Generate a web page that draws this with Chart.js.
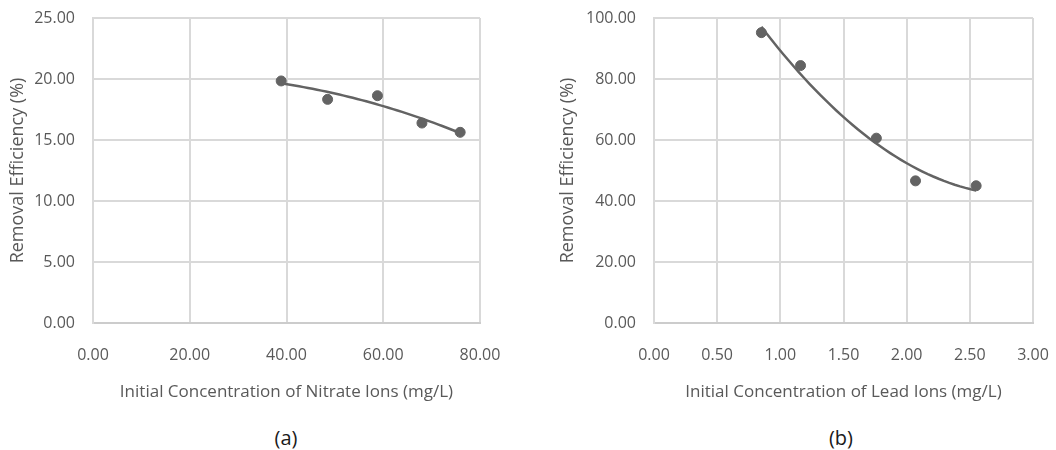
<!DOCTYPE html>
<html lang="en">
<head>
    <meta charset="UTF-8">
    <title>Removal Efficiency vs Initial Concentration</title>
    <script src="https://cdn.jsdelivr.net/npm/chart.js"></script>
    <style>
        body { margin: 0; background: #fff; width: 1056px; height: 450px; position: relative; overflow: hidden; }
        .panel { position: absolute; top: 0; }
        .panel canvas { display: block; }
        .caption { position: absolute; top: 426px; width: 40px; margin-left: -20px; text-align: center;
                   font-family: "Open Sans", sans-serif; font-size: 20px; line-height: 24px; color: #1a1a1a; }
    </style>
</head>
<body>
    <div class="panel" style="left:0px"><canvas id="nitrateChart" width="520" height="410"></canvas></div>
    <div class="panel" style="left:530px"><canvas id="leadChart" width="526" height="410"></canvas></div>
    <div class="caption" style="left:286px">(a)</div>
    <div class="caption" style="left:841px">(b)</div>

    <script>
        // values
        const nitrateConc = [38.9, 48.5, 58.8, 68.0, 75.9];
        const nitrateEff = [19.84, 18.33, 18.63, 16.39, 15.63];
        const leadConc = [0.85, 1.16, 1.76, 2.07, 2.55];
        const leadEff = [95.2, 84.4, 60.6, 46.6, 45.0];

        // axis ticks
        const nitrateXTicks = [0, 20, 40, 60, 80];
        const nitrateYTicks = [0, 5, 10, 15, 20, 25];
        const leadXTicks = [0, 0.5, 1, 1.5, 2, 2.5, 3];
        const leadYTicks = [0, 20, 40, 60, 80, 100];

        const grey = '#636363';
        const gridGrey = '#d9d9d9';
        const axisGrey = '#cccccc';
        const labelGrey = '#595959';
        const fontFamily = '"Open Sans", sans-serif';

        // 2nd order polynomial trendline (least squares), like the spreadsheet's
        function polyFit(xs, ys) {
            let s = [0, 0, 0, 0, 0], t = [0, 0, 0];
            for (let i = 0; i < xs.length; i++) {
                let p = 1;
                for (let k = 0; k < 5; k++) { s[k] += p; if (k < 3) t[k] += p * ys[i]; p *= xs[i]; }
            }
            const m = [[s[0], s[1], s[2], t[0]], [s[1], s[2], s[3], t[1]], [s[2], s[3], s[4], t[2]]];
            for (let c = 0; c < 3; c++) {
                for (let r = c + 1; r < 3; r++) {
                    const f = m[r][c] / m[c][c];
                    for (let k = c; k < 4; k++) m[r][k] -= f * m[c][k];
                }
            }
            const a = [0, 0, 0];
            for (let r = 2; r >= 0; r--) {
                let v = m[r][3];
                for (let k = r + 1; k < 3; k++) v -= m[r][k] * a[k];
                a[r] = v / m[r][r];
            }
            return a;
        }

        function trendPoints(xs, ys) {
            const a = polyFit(xs, ys);
            const lo = Math.min(...xs), hi = Math.max(...xs);
            const pts = [];
            for (let i = 0; i <= 40; i++) {
                const x = lo + (hi - lo) * i / 40;
                pts.push({ x: x, y: a[0] + a[1] * x + a[2] * x * x });
            }
            return pts;
        }

        // fixed axis sizes, and no extra room reserved for the end labels
        function fixSize(s, w, h) {
            if (w !== null) s.width = w;
            if (h !== null) s.height = h;
            s.paddingLeft = 0;
            s.paddingRight = 0;
            s.paddingTop = 0;
            s.paddingBottom = 0;
        }

        function makeChart(id, xs, ys, xTicks, yTicks, xTitle, yAxisWidth, yTitlePad, rightPad) {
            const points = xs.map((x, i) => ({ x: x, y: ys[i] }));
            return new Chart(document.getElementById(id), {
                type: 'scatter',
                data: {
                    datasets: [{
                        data: points,
                        backgroundColor: grey,
                        borderColor: grey,
                        pointRadius: 5,
                        pointHoverRadius: 5
                    }, {
                        type: 'line',
                        data: trendPoints(xs, ys),
                        borderColor: grey,
                        borderWidth: 2.5,
                        pointRadius: 0,
                        fill: false,
                        tension: 0
                    }]
                },
                options: {
                    responsive: false,
                    animation: false,
                    layout: { padding: { top: 18, right: rightPad, bottom: 0, left: 0 } },
                    plugins: { legend: { display: false }, tooltip: { enabled: false } },
                    scales: {
                        x: {
                            type: 'linear',
                            min: xTicks[0],
                            max: xTicks[xTicks.length - 1],
                            afterBuildTicks: s => { s.ticks = xTicks.map(v => ({ value: v })); },
                            afterFit: s => fixSize(s, null, 87),
                            grid: { color: gridGrey, lineWidth: 2, drawTicks: false },
                            border: { color: axisGrey, width: 2 },
                            ticks: {
                                padding: 23,
                                color: labelGrey,
                                font: { family: fontFamily, size: 16 },
                                maxRotation: 0,
                                callback: v => v.toFixed(2)
                            },
                            title: {
                                display: true,
                                text: xTitle,
                                color: labelGrey,
                                font: { family: fontFamily, size: 17, lineHeight: 1.2 },
                                padding: { top: 0, bottom: 8 }
                            }
                        },
                        y: {
                            min: yTicks[0],
                            max: yTicks[yTicks.length - 1],
                            afterBuildTicks: s => { s.ticks = yTicks.map(v => ({ value: v })); },
                            afterFit: s => fixSize(s, yAxisWidth, null),
                            grid: { color: gridGrey, lineWidth: 2, drawTicks: false },
                            border: { color: gridGrey, width: 2 },
                            ticks: {
                                padding: 18,
                                color: labelGrey,
                                font: { family: fontFamily, size: 16 },
                                callback: v => v.toFixed(2)
                            },
                            title: {
                                display: true,
                                text: 'Removal Efficiency (%)',
                                color: labelGrey,
                                font: { family: fontFamily, size: 18, lineHeight: 1.2 },
                                padding: { top: yTitlePad, bottom: 0 }
                            }
                        }
                    }
                }
            });
        }

        makeChart('nitrateChart', nitrateConc, nitrateEff, nitrateXTicks, nitrateYTicks,
            'Initial Concentration of Nitrate Ions (mg/L)', 93, 7, 40);
        makeChart('leadChart', leadConc, leadEff, leadXTicks, leadYTicks,
            'Initial Concentration of Lead Ions (mg/L)', 124, 27, 23);
    </script>
</body>
</html>
